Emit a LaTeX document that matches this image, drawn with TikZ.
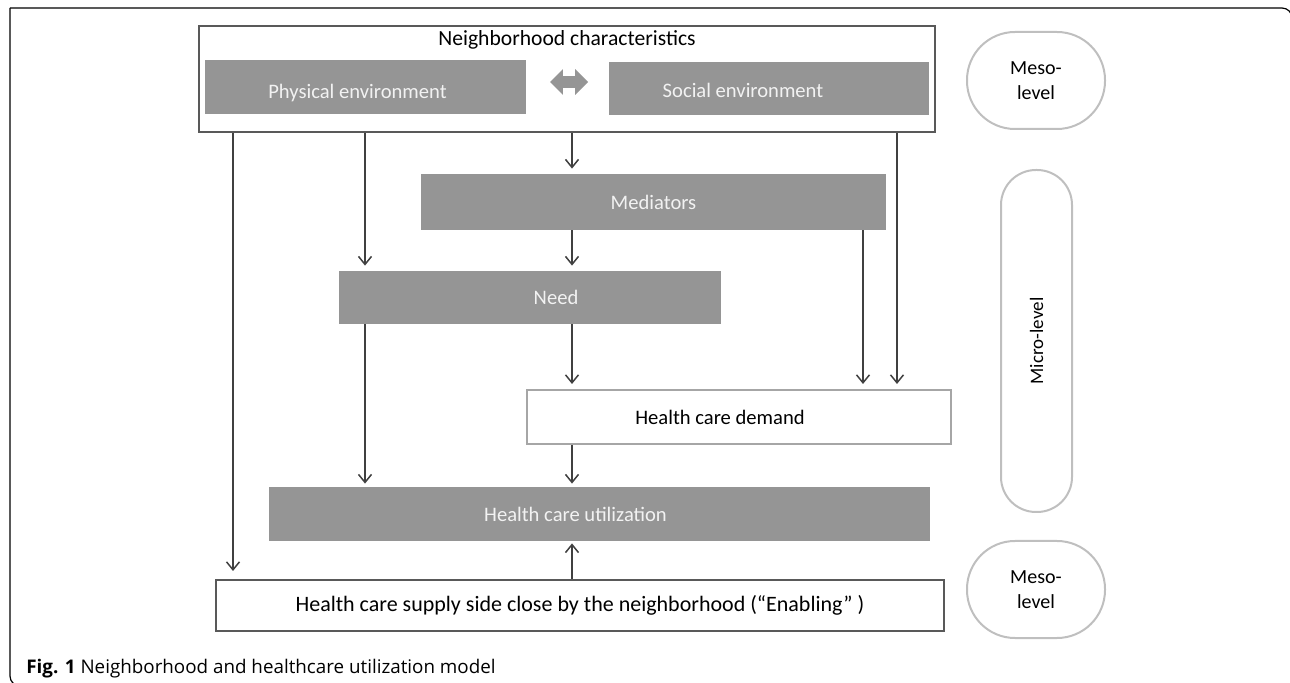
\documentclass[tikz,border=0pt]{standalone}
\usepackage{fontspec}
\setmainfont{Carlito}
\newfontfamily\capfont{Open Sans}
\usetikzlibrary{positioning,arrows.meta,shapes.arrows}
\definecolor{boxgray}{HTML}{959595}
\definecolor{linegray}{HTML}{595959}
\definecolor{rimgray}{HTML}{A6A6A6}
\definecolor{ovalgray}{HTML}{BFBFBF}
\definecolor{arrowgray}{HTML}{404040}
\tikzset{
  frame/.style = {rectangle, draw=linegray, line width=1pt, fill=white, inner sep=0pt},
  gbox/.style  = {rectangle, fill=boxgray, inner sep=0pt},
  gtxt/.style  = {text=white!95!black, font=\fontsize{10.3}{12}\selectfont, inner sep=1pt},
  dbox/.style  = {rectangle, draw=rimgray, line width=1pt, inner sep=0pt},
  lvl/.style   = {rectangle, draw=ovalgray, line width=1pt, align=center,
                  font=\fontsize{10}{12.5}\selectfont, inner sep=0pt},
  edge/.style  = {-{Straight Barb[length=4pt,width=6.5pt]}, draw=arrowgray,
                  line width=0.75pt, shorten >=2.5pt},
}

\begin{document}
\begin{tikzpicture}[x=0.5pt,y=-0.5pt]

  \useasboundingbox (0,0) rectangle (1290,683);
  \draw[line width=0.6pt, rounded corners=5pt] (10,8) -- (1292,8) -- (1292,700);
  \draw[line width=0.6pt, rounded corners=5pt] (10,8) -- (10,686) -- (1300,686);

  % columns of the connectors
  \coordinate (c1) at (233,0);
  \coordinate (c2) at (365,0);
  \coordinate (c3) at (572,0);
  \coordinate (c4) at (863,0);
  \coordinate (c5) at (897,0);

  % neighborhood block
  \node[frame, minimum width=368pt, minimum height=53pt] (nb) at (567,79) {};
  \node[font=\fontsize{10.8}{12}\selectfont, inner sep=1pt] (nb-t) at (567,40) {Neighborhood characteristics};
  \node[gbox, minimum width=160.5pt, minimum height=27pt] (phys) at (365.5,87) {};
  \node[gtxt] (phys-t) at ([xshift=-4pt,yshift=-3pt]phys) {Physical environment};
  \node[gbox, minimum width=160pt, minimum height=26.5pt] (soc) at (769,88.5) {};
  \node[gtxt] (soc-t) at ([xshift=-13pt,yshift=-1pt]soc) {Social environment};
  \node[double arrow, fill=boxgray, draw=none, inner xsep=0pt, inner ysep=2.75pt,
        minimum height=19pt, double arrow head extend=3.5pt] (dbl) at (569,82) {};

  % micro level
  \node[gbox, minimum width=232.5pt, minimum height=28pt] (med) at (653.5,202) {};
  \node[gtxt] (med-t) at (med) {Mediators};
  \node[gbox, minimum width=191pt, minimum height=26.5pt] (need) at (530,297.5) {};
  \node[gtxt] (need-t) at ([xshift=13pt]need) {Need};
  \node[dbox, minimum width=212pt, minimum height=27pt] (dem) at (739,417) {};
  \node[font=\fontsize{10.3}{12}\selectfont, inner sep=1pt] (dem-t) at ([xshift=-9.5pt]dem) {Health care demand};
  \node[gbox, minimum width=330.5pt, minimum height=27pt] (util) at (599.5,514) {};
  \node[gtxt] (util-t) at ([xshift=-12pt]util) {Health care utilization};

  % supply side
  \node[frame, minimum width=364pt, minimum height=25.5pt, font=\fontsize{11}{13}\selectfont]
    (sup) at (580,605.5) {Health care supply side close by the neighborhood (“Enabling” )};

  % levels
  \node[lvl, minimum width=69pt, minimum height=48.5pt, rounded corners=24pt] (meso1) at (1036,80.5) {Meso-\\level};
  \node[lvl, minimum width=35.5pt, minimum height=171pt, rounded corners=17.5pt] (micro) at (1036.5,341) {};
  \node[rotate=90, font=\fontsize{9.5}{11}\selectfont, inner sep=1pt] (micro-t) at (micro) {Micro-level};
  \node[lvl, minimum width=69pt, minimum height=48.5pt, rounded corners=24pt] (meso2) at (1036,589.5) {Meso-\\level};

  \draw[edge, shorten >=4pt] (nb.south -| c1) -- (sup.north -| c1);
  \draw[edge] (nb.south -| c2) -- (need.north -| c2);
  \draw[edge] (nb.south -| c3) -- (med.north -| c3);
  \draw[edge] (nb.south -| c5) -- (dem.north -| c5);
  \draw[edge] (med.south -| c3) -- (need.north -| c3);
  \draw[edge] (med.south -| c4) -- (dem.north -| c4);
  \draw[edge] (need.south -| c3) -- (dem.north -| c3);
  \draw[edge, shorten >=1.5pt] (need.south -| c2) -- (util.north -| c2);
  \draw[edge, shorten >=1.5pt] (dem.south -| c3) -- (util.north -| c3);
  \draw[edge, shorten >=1pt] (sup.north -| c3) -- (util.south -| c3);

  \node[anchor=west, inner sep=0pt, font=\capfont\fontsize{9.4}{11}\selectfont] (cap) at (26,669)
    {\textbf{Fig. 1} Neighborhood and healthcare utilization model};

\end{tikzpicture}
\end{document}
